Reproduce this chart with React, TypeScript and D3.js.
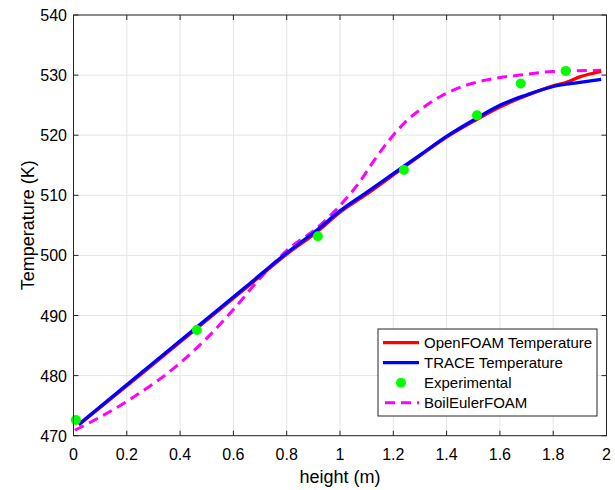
import React from "react";
import * as d3 from "d3";

const xTicks = [0, 0.2, 0.4, 0.6, 0.8, 1, 1.2, 1.4, 1.6, 1.8, 2];
const yTicks = [470, 480, 490, 500, 510, 520, 530, 540];

const traceX = [0.02, 0.25, 0.463, 0.65, 0.8, 0.916, 1.0, 1.1, 1.2, 1.3, 1.4, 1.5, 1.6, 1.7, 1.8, 1.9, 1.98];
const traceY = [471.9, 480.3, 488.1, 494.9, 500.4, 504.3, 507.4, 510.5, 513.6, 516.7, 519.8, 522.5, 525.0, 526.7, 528.1, 528.8, 529.3];

const foamX = [0.02, 0.25, 0.463, 0.65, 0.8, 0.916, 1.0, 1.1, 1.2, 1.3, 1.4, 1.5, 1.6, 1.7, 1.8, 1.85, 1.9, 1.98];
const foamY = [471.8, 480.1, 487.9, 494.7, 500.2, 504.0, 507.2, 510.2, 513.4, 516.6, 519.7, 522.3, 524.7, 526.6, 528.2, 528.8, 529.7, 530.6];

const boilX = [0.005, 0.2, 0.4, 0.5, 0.6, 0.7, 0.8, 0.925, 1.0, 1.075, 1.125, 1.2, 1.25, 1.3, 1.375, 1.425, 1.55, 1.675, 1.8, 1.98];
const boilY = [470.9, 475.7, 482.1, 486.2, 491.0, 496.2, 500.8, 505.0, 508.3, 512.3, 515.6, 520.0, 522.4, 524.2, 526.4, 527.5, 529.2, 530.0, 530.6, 530.8];

const expX = [0.009, 0.463, 0.917, 1.24, 1.514, 1.678, 1.847];
const expY = [472.6, 487.6, 503.2, 514.2, 523.3, 528.6, 530.7];

const W = 615, H = 490;
const L = 73.5, R = 606.5, T = 15, B = 435.7;

export default function App() {
  const x = d3.scaleLinear().domain([0, 2]).range([L, R]);
  const y = d3.scaleLinear().domain([470, 540]).range([B, T]);
  const line = d3.line<[number, number]>().x(d => x(d[0])).y(d => y(d[1])).curve(d3.curveMonotoneX);
  const zip = (a: number[], b: number[]) => a.map((v, i) => [v, b[i]] as [number, number]);
  const font = "'Liberation Sans', Arial, sans-serif";
  const axisColor = "#262626";
  const legend = [
    { label: "OpenFOAM Temperature", type: "line", color: "#ff0000" },
    { label: "TRACE Temperature", type: "line", color: "#0000ff" },
    { label: "Experimental", type: "dot", color: "#00ff00" },
    { label: "BoilEulerFOAM", type: "dash", color: "#ff00ff" },
  ];
  const lx = 378, ly = 329, lw = 219, lh = 87;
  return (
    <svg width={W} height={H} style={{ position: "absolute", left: 0, top: 0, background: "#fff" }} fontFamily={font}>
      <rect x={0} y={0} width={W} height={H} fill="#fff" />
      {xTicks.map(t => (
        <line key={"gx" + t} x1={x(t)} x2={x(t)} y1={T} y2={B} stroke="#e5e5e5" strokeWidth={1} />
      ))}
      {yTicks.map(t => (
        <line key={"gy" + t} x1={L} x2={R} y1={y(t)} y2={y(t)} stroke="#e5e5e5" strokeWidth={1} />
      ))}
      <path d={line(zip(boilX, boilY)) || ""} fill="none" stroke="#ff00ff" strokeWidth={3} strokeDasharray="10,6" />
      <path d={line(zip(foamX, foamY)) || ""} fill="none" stroke="#ff0000" strokeWidth={3.3} />
      <path d={line(zip(traceX, traceY)) || ""} fill="none" stroke="#0000ff" strokeWidth={3.3} />
      {expX.map((v, i) => (
        <circle key={"e" + i} cx={x(v)} cy={y(expY[i])} r={5} fill="#00ff00" />
      ))}
      <rect x={L} y={T} width={R - L} height={B - T} fill="none" stroke={axisColor} strokeWidth={1} />
      {xTicks.map(t => (
        <g key={"tx" + t}>
          <line x1={x(t)} x2={x(t)} y1={B} y2={B - 5} stroke={axisColor} />
          <line x1={x(t)} x2={x(t)} y1={T} y2={T + 5} stroke={axisColor} />
          <text x={x(t)} y={460} textAnchor="middle" fontSize={16} fill="#000">{String(t)}</text>
        </g>
      ))}
      {yTicks.map(t => (
        <g key={"ty" + t}>
          <line x1={L} x2={L + 5} y1={y(t)} y2={y(t)} stroke={axisColor} />
          <line x1={R} x2={R - 5} y1={y(t)} y2={y(t)} stroke={axisColor} />
          <text x={67} y={y(t) + 6} textAnchor="end" fontSize={16} fill="#000">{String(t)}</text>
        </g>
      ))}
      <text x={x(1)} y={483} textAnchor="middle" fontSize={18} fill="#000">height (m)</text>
      <text transform={`translate(34,${(T + B) / 2}) rotate(-90)`} textAnchor="middle" fontSize={18} fill="#000">Temperature (K)</text>
      <rect x={lx} y={ly} width={lw} height={lh} fill="#fff" stroke={axisColor} strokeWidth={1} />
      {legend.map((d, i) => {
        const cy = 342.7 + i * 20;
        return (
          <g key={d.label}>
            {d.type === "line" && <line x1={383} x2={419} y1={cy} y2={cy} stroke={d.color} strokeWidth={3.2} />}
            {d.type === "dash" && <line x1={383} x2={419} y1={cy} y2={cy} stroke={d.color} strokeWidth={3} strokeDasharray="10,6" strokeDashoffset={-2} />}
            {d.type === "dot" && <circle cx={401} cy={cy} r={5} fill={d.color} />}
            <text x={424} y={cy + 5.5} fontSize={15} fill="#000">{d.label}</text>
          </g>
        );
      })}
    </svg>
  );
}
